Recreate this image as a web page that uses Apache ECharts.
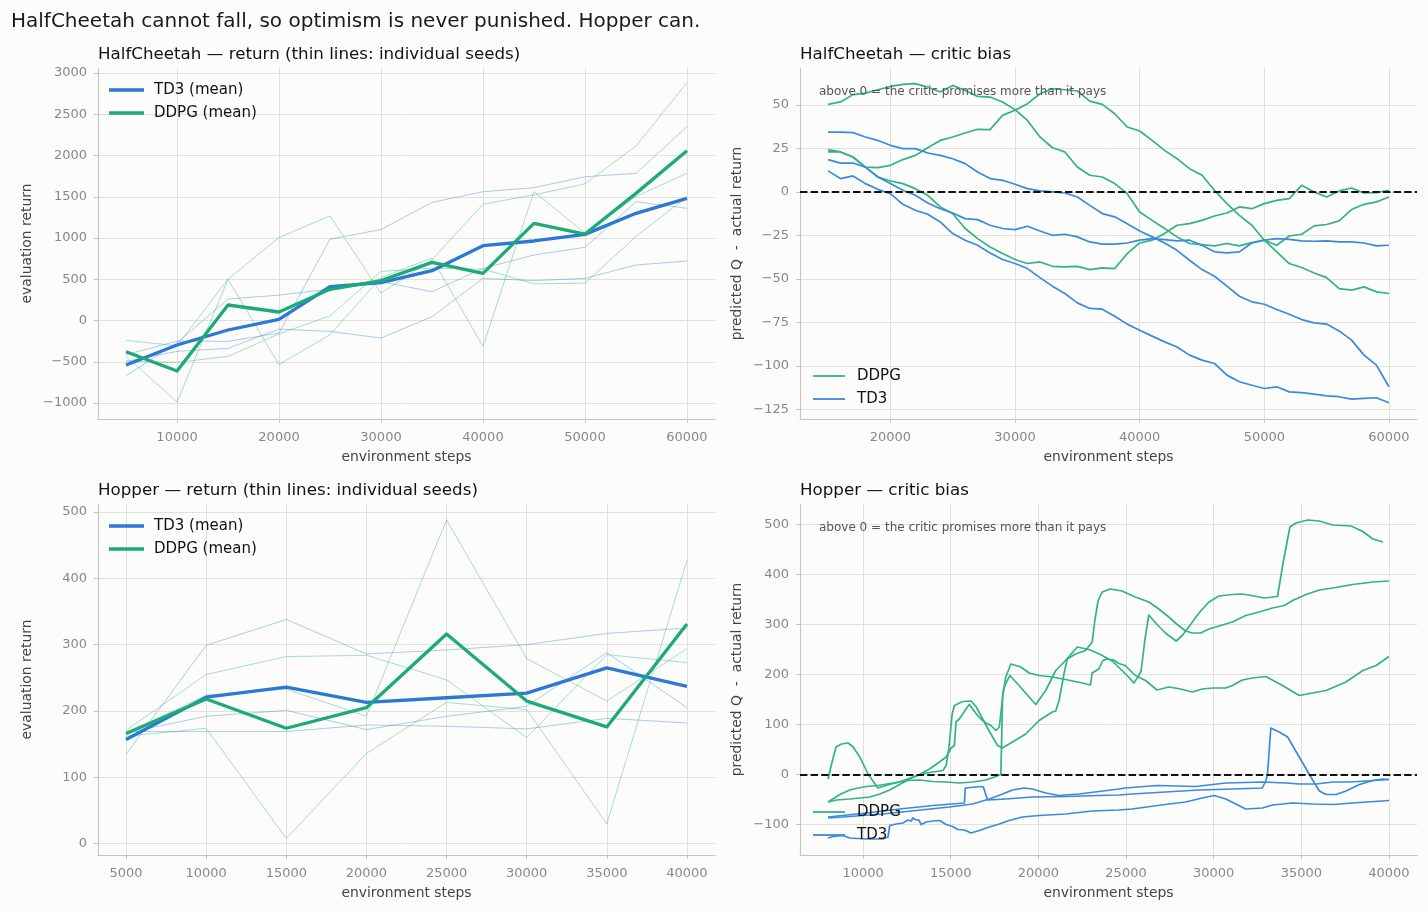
<!DOCTYPE html>
<html>
<head>
<meta charset="utf-8">
<title>TD3 vs DDPG critic bias</title>
<script src="https://cdn.jsdelivr.net/npm/echarts@6/dist/echarts.min.js"></script>
<style>
  html, body { margin: 0; padding: 0; background: #fcfcfa; }
  #chart { width: 1428px; height: 911px; }
</style>
</head>
<body>
<div id="chart"></div>
<script>
// ---- HalfCheetah return (evaluation every 5000 steps) ----
var hcSteps = [5000, 10000, 15000, 20000, 25000, 30000, 35000, 40000, 45000, 50000, 55000, 60000];
var hcTd3Mean  = [-539, -297, -115, 15, 410, 458, 604, 907, 964, 1044, 1299, 1481];
var hcDdpgMean = [-378, -612, 188, 103, 378, 483, 705, 572, 1178, 1048, 1541, 2058];
var hcTd3Seed1 = [-414, -250, -253, -152, 986, 1103, 1432, 1561, 1610, 1743, 1784, 2349];
var hcTd3Seed2 = [-669, -270, 260, 308, 380, 471, 349, 632, 794, 887, 1440, 1360];
var hcTd3Seed3 = [-495, -374, -338, -104, -132, -213, 46, 511, 483, 511, 673, 721];
var hcDdpgSeed1 = [-241, -306, 500, 1006, 1268, 332, 736, 1410, 1523, 1656, 2116, 2883];
var hcDdpgSeed2 = [-435, -988, 500, -535, -172, 522, 756, -314, 1563, 1059, 1503, 1785];
var hcDdpgSeed3 = [-495, -507, -435, -162, 58, 595, 635, 623, 445, 453, 1018, 1500];

// ---- Hopper return ----
var hpSteps = [5000, 10000, 15000, 20000, 25000, 30000, 35000, 40000];
var hpTd3Mean  = [157, 221, 236, 213, 220, 227, 265, 237];
var hpDdpgMean = [166, 218, 174, 205, 316, 215, 176, 331];
var hpTd3Seed1 = [135, 299, 338, 286, 292, 300, 317, 325];
var hpTd3Seed2 = [167, 192, 201, 172, 192, 207, 288, 205];
var hpTd3Seed3 = [169, 169, 169, 179, 177, 173, 189, 182];
var hpDdpgSeed1 = [171, 255, 282, 284, 247, 160, 285, 273];
var hpDdpgSeed2 = [166, 224, 233, 192, 488, 279, 215, 294];
var hpDdpgSeed3 = [162, 174, 8, 136, 213, 202, 30, 427];

// ---- HalfCheetah critic bias (predicted Q - actual return) ----
var hcBiasSteps = [15000, 16000, 17000, 18000, 19000, 20000, 21000, 22000, 23000, 24000,
  25000, 26000, 27000, 28000, 29000, 30000, 31000, 32000, 33000, 34000,
  35000, 36000, 37000, 38000, 39000, 40000, 41000, 42000, 43000, 44000,
  45000, 46000, 47000, 48000, 49000, 50000, 51000, 52000, 53000, 54000,
  55000, 56000, 57000, 58000, 59000, 60000];
var hcBiasDdpg1 = [50.3, 51.7, 55.9, 56.8, 58.7, 60.6, 61.8, 62.2, 60.3, 57.4, 61.2, 58.3, 54.9, 54.5, 51.7, 47.3,
  41.1, 31.6, 25.4, 23.0, 14.3, 9.6, 8.6, 4.8, -1.0, -11.5, -16.3, -21.0, -25.8, -29.6, -30.2, -31.0,
  -29.6, -31.0, -29.1, -27.7, -30.6, -25.3, -24.3, -19.5, -18.7, -16.6, -10.1, -7.1, -5.7, -2.9];
var hcBiasDdpg2 = [24.3, 23.0, 20.1, 14.3, 8.6, 6.3, 4.8, 1.9, -1.9, -8.6, -12.4, -21.0, -26.8, -31.6, -35.4, -38.8,
  -41.1, -40.2, -42.7, -43.0, -42.7, -44.6, -43.6, -44.0, -35.4, -29.3, -27.7, -23.9, -19.1, -18.2, -16.3, -13.8,
  -12.1, -8.6, -9.6, -6.7, -4.8, -3.8, 3.8, 0, -2.9, 0.6, 2.3, -0.6, -0.4, 1.0];
var hcBiasDdpg3 = [23.0, 23.0, 20.1, 14.3, 14.0, 15.3, 18.6, 21.0, 25.4, 29.6, 31.6, 33.9, 36.0, 35.8, 44.0, 46.9,
  50.7, 56.4, 59.3, 58.7, 58.0, 52.2, 50.3, 44.9, 37.3, 35.0, 29.6, 23.9, 19.1, 13.4, 9.6, 1.0,
  -6.7, -13.4, -19.1, -27.7, -34.4, -41.1, -43.4, -46.5, -49.2, -55.5, -56.4, -54.5, -57.4, -58.3];
var hcBiasTd3a = [34.4, 34.4, 34.1, 31.6, 29.6, 26.8, 24.9, 24.9, 22.4, 21.0, 19.1, 16.3, 11.5, 7.7, 6.7, 4.4,
  1.9, 0.6, 0, -0.6, -2.9, -7.7, -12.4, -14.3, -18.2, -22.4, -25.8, -29.3, -33.5, -39.2, -44.6, -48.4,
  -54.1, -59.9, -63.1, -64.5, -67.5, -70.2, -73.3, -75.2, -75.9, -79.8, -85.1, -93.7, -99.5, -111.9];
var hcBiasTd3b = [18.6, 16.6, 16.6, 14.3, 8.6, 4.8, 1.0, -1.9, -6.3, -9.6, -12.1, -15.3, -15.9, -19.1, -21.0, -21.6,
  -19.7, -22.4, -24.9, -24.3, -25.8, -28.7, -30.0, -30.0, -29.3, -27.7, -26.8, -27.4, -28.1, -27.7, -30.6, -34.4,
  -35.0, -34.4, -29.3, -27.7, -26.8, -27.2, -28.1, -28.3, -28.1, -28.7, -28.7, -29.3, -31.0, -30.6];
var hcBiasTd3c = [12.1, 7.7, 9.2, 4.8, 1.5, -1.0, -7.1, -10.5, -12.8, -17.2, -23.9, -27.7, -30.6, -35.0, -38.8, -41.1,
  -44.0, -49.2, -54.1, -58.3, -63.7, -66.9, -67.3, -71.4, -75.9, -79.4, -82.8, -86.1, -89.0, -93.7, -96.6, -98.5,
  -105.2, -109.0, -111.0, -112.9, -111.9, -114.8, -115.2, -116.1, -117.1, -117.6, -119.0, -118.6, -118.2, -121.1];

// ---- Hopper critic bias, [step, bias] ----
var hpBiasDdpgA = [[8000,-9],[8200,21],[8450,55],[8770,61],[9150,63],[9430,55],[9810,35],[10280,1],[10850,-27],
  [11500,-20],[12080,-15],[12840,-5],[13600,3],[14550,8],[14740,18],[14890,51],[15080,121],[15210,138],[15680,146],
  [16160,147],[16440,136],[16820,111],[17290,81],[17670,58],[17950,53],[18520,65],[19280,81],[20040,108],[20800,125],
  [20990,127],[21180,148],[21460,201],[21650,231],[22120,241],[22690,248],[23070,265],[23220,308],[23410,348],
  [23640,365],[24100,371],[24770,367],[25530,355],[26300,345],[26870,331],[27440,315],[27920,300],[28400,287],
  [28780,283],[29260,283],[29730,291],[30300,297],[31070,305],[31830,318],[32590,325],[33360,333],[34030,338],
  [34500,348],[35270,360],[36030,369],[36790,373],[37940,380],[39080,385],[40000,387]];
var hpBiasDdpgB = [[8000,-55],[8490,-51],[9240,-49],[10380,-45],[10950,-39],[11520,-31],[12080,-20],[12650,-9],
  [13220,0],[13790,11],[14360,25],[14740,35],[15020,53],[15210,58],[15300,105],[15490,111],[15870,131],[16060,140],
  [16250,131],[16530,118],[16720,111],[17010,103],[17290,98],[17580,88],[17770,95],[17880,98],[17990,163],[18140,195],
  [18430,221],[18520,223],[19000,215],[19470,203],[20040,198],[20800,195],[21550,190],[22500,183],[22970,179],
  [23070,203],[23450,211],[23680,228],[23920,231],[24300,229],[24580,222],[24960,218],[25530,198],[26110,188],
  [26770,169],[27440,175],[28110,171],[28780,165],[29350,171],[29920,173],[30690,173],[31070,178],[31640,189],
  [32210,193],[32980,196],[33930,178],[34880,158],[35650,163],[36410,168],[37550,185],[38510,208],[39270,218],
  [40000,236]];
var hpBiasDdpgC = [[8000,-55],[8670,-40],[9240,-31],[9720,-27],[10190,-24],[10850,-22],[11710,-17],[12460,-12],
  [13220,-11],[13980,-14],[14740,-15],[15490,-17],[16250,-15],[17010,-11],[17580,-4],[17860,0],[17960,161],
  [18050,175],[18370,198],[18900,178],[19470,155],[19850,140],[20420,168],[20990,208],[21550,228],[22220,255],
  [22880,250],[23540,240],[24210,227],[24770,208],[25150,195],[25440,183],[25690,195],[25860,207],[26070,268],
  [26300,319],[26770,300],[27250,283],[27860,267],[28210,278],[28680,300],[29160,323],[29730,345],[30300,357],
  [31070,360],[31640,361],[32310,357],[32880,353],[33640,356],[33970,425],[34350,495],[34690,503],[35360,509],
  [36030,507],[36790,499],[37840,497],[38510,486],[39080,471],[39650,465]];
var hpBiasTd3A = [[8000,-85],[10190,-77],[12080,-69],[13980,-62],[15780,-57],[15830,-27],[16720,-24],[16860,-25],
  [17100,-51],[18140,-49],[19660,-45],[21550,-44],[23450,-42],[24580,-41],[25340,-39],[27250,-35],[29160,-31],
  [31070,-29],[32780,-27],[32980,-12],[33070,1],[33260,93],[33740,85],[34220,75],[34880,35],[35460,0],[36030,-33],
  [36410,-40],[36980,-40],[37550,-33],[38320,-20],[39080,-12],[39650,-9],[40000,-10]];
var hpBiasTd3B = [[8000,-87],[9240,-84],[11140,-79],[13030,-72],[14920,-65],[16250,-59],[17200,-49],[17960,-39],
  [18520,-31],[19190,-27],[19660,-29],[20420,-37],[21180,-42],[22310,-39],[23450,-34],[24580,-29],[24960,-27],
  [26770,-22],[28970,-24],[30690,-17],[32780,-15],[34120,-17],[34880,-19],[35840,-19],[36790,-15],[37750,-15],
  [38700,-13],[40000,-10]];
var hpBiasTd3C = [[8000,-127],[8300,-124],[8860,-122],[9240,-127],[10190,-129],[11140,-129],[11420,-125],[11520,-102],
  [11890,-99],[12270,-97],[12560,-91],[12750,-93],[12840,-87],[13030,-91],[13180,-91],[13310,-100],[13600,-95],
  [13980,-93],[14360,-92],[14740,-100],[15110,-104],[15400,-110],[15780,-111],[16160,-117],[16630,-112],[17200,-105],
  [17770,-99],[18330,-92],[19090,-85],[20040,-82],[21550,-79],[23070,-73],[24580,-71],[25340,-69],[27250,-60],
  [28400,-55],[29350,-47],[30020,-42],[30690,-49],[31260,-59],[31830,-69],[32780,-67],[33360,-61],[34500,-57],
  [35650,-59],[36790,-60],[37940,-57],[40000,-52]];

// ---- tick labels ----
var hcRetXTicks = [10000, 20000, 30000, 40000, 50000, 60000];
var hcRetYTicks = [-1000, -500, 0, 500, 1000, 1500, 2000, 2500, 3000];
var hcBiasXTicks = [20000, 30000, 40000, 50000, 60000];
var hcBiasYTicks = [-125, -100, -75, -50, -25, 0, 25, 50];
var hpRetXTicks = [5000, 10000, 15000, 20000, 25000, 30000, 35000, 40000];
var hpRetYTicks = [0, 100, 200, 300, 400, 500];
var hpBiasXTicks = [10000, 15000, 20000, 25000, 30000, 35000, 40000];
var hpBiasYTicks = [-100, 0, 100, 200, 300, 400, 500];

var FONT = 'DejaVu Sans';
var BLUE = '#2b78d5', GREEN = '#1caa77';
var BLUE_C = '#3b8ade', GREEN_C = '#33b383';
var SPINE = '#c6c4bc', GRIDC = '#e2e0da';
var NOTE = 'above 0 = the critic promises more than it pays';

var myChart = echarts.init(document.getElementById('chart'));

function zip(xs, ys) {
  var out = [];
  for (var i = 0; i < xs.length; i++) out.push([xs[i], ys[i]]);
  return out;
}
function fmt(v) { return String(v).replace('-', '\u2212'); }

function makeAxis(gi, min, max, ticks, name, gap, isX) {
  return {
    type: 'value', gridIndex: gi, min: min, max: max,
    name: name, nameLocation: 'middle', nameGap: gap,
    nameTextStyle: { color: '#444', fontSize: 13.9, fontFamily: FONT },
    axisLine: { show: true, onZero: false, lineStyle: { color: SPINE, width: 1.1 } },
    axisTick: { show: true, length: 4, customValues: ticks, lineStyle: { color: SPINE, width: 1 } },
    axisLabel: { customValues: ticks, color: '#888', fontSize: 13, fontFamily: FONT,
                 margin: isX ? 12 : 11, formatter: fmt },
    splitLine: { show: true, lineStyle: { color: GRIDC, width: 1 } }
  };
}

function line(name, gi, data, color, width, opacity, z) {
  return {
    name: name, type: 'line', xAxisIndex: gi, yAxisIndex: gi,
    data: data, symbol: 'none', showSymbol: false, silent: true, z: z,
    itemStyle: { color: color },
    lineStyle: { color: color, width: width, opacity: opacity, join: 'round', cap: 'butt' }
  };
}

function zeroLine() {
  return {
    silent: true, symbol: ['none', 'none'], label: { show: false },
    lineStyle: { color: '#111', type: [7.4, 3.2], width: 2 },
    data: [{ yAxis: 0 }]
  };
}

function legendBox(names, left, top, w, h, pad) {
  return {
    data: names, orient: 'vertical', left: left, top: top, padding: 0,
    icon: 'rect', itemWidth: w, itemHeight: h, itemGap: 7,
    itemStyle: { borderWidth: 0 },
    selectedMode: false,
    textStyle: { fontSize: 15, color: '#111', fontFamily: FONT, lineHeight: 16, padding: [0, 0, 0, pad] }
  };
}

var series = [
  line('TD3 seed', 0, zip(hcSteps, hcTd3Seed1), BLUE, 1, 0.38, 2),
  line('TD3 seed', 0, zip(hcSteps, hcTd3Seed2), BLUE, 1, 0.38, 2),
  line('TD3 seed', 0, zip(hcSteps, hcTd3Seed3), BLUE, 1, 0.38, 2),
  line('DDPG seed', 0, zip(hcSteps, hcDdpgSeed1), GREEN, 1, 0.38, 2),
  line('DDPG seed', 0, zip(hcSteps, hcDdpgSeed2), GREEN, 1, 0.38, 2),
  line('DDPG seed', 0, zip(hcSteps, hcDdpgSeed3), GREEN, 1, 0.38, 2),
  line('TD3 (mean)', 0, zip(hcSteps, hcTd3Mean), BLUE, 3.3, 1, 3),
  line('DDPG (mean)', 0, zip(hcSteps, hcDdpgMean), GREEN, 3.3, 1, 3),

  line('DDPG', 1, zip(hcBiasSteps, hcBiasDdpg1), GREEN_C, 1.7, 1, 3),
  line('DDPG', 1, zip(hcBiasSteps, hcBiasDdpg2), GREEN_C, 1.7, 1, 3),
  line('DDPG', 1, zip(hcBiasSteps, hcBiasDdpg3), GREEN_C, 1.7, 1, 3),
  line('TD3', 1, zip(hcBiasSteps, hcBiasTd3a), BLUE_C, 1.7, 1, 3),
  line('TD3', 1, zip(hcBiasSteps, hcBiasTd3b), BLUE_C, 1.7, 1, 3),
  line('TD3', 1, zip(hcBiasSteps, hcBiasTd3c), BLUE_C, 1.7, 1, 3),

  line('TD3 seed', 2, zip(hpSteps, hpTd3Seed1), BLUE, 1, 0.38, 2),
  line('TD3 seed', 2, zip(hpSteps, hpTd3Seed2), BLUE, 1, 0.38, 2),
  line('TD3 seed', 2, zip(hpSteps, hpTd3Seed3), BLUE, 1, 0.38, 2),
  line('DDPG seed', 2, zip(hpSteps, hpDdpgSeed1), GREEN, 1, 0.38, 2),
  line('DDPG seed', 2, zip(hpSteps, hpDdpgSeed2), GREEN, 1, 0.38, 2),
  line('DDPG seed', 2, zip(hpSteps, hpDdpgSeed3), GREEN, 1, 0.38, 2),
  line('TD3 (mean)', 2, zip(hpSteps, hpTd3Mean), BLUE, 3.3, 1, 3),
  line('DDPG (mean)', 2, zip(hpSteps, hpDdpgMean), GREEN, 3.3, 1, 3),

  line('DDPG', 3, hpBiasDdpgA, GREEN_C, 1.7, 1, 3),
  line('DDPG', 3, hpBiasDdpgB, GREEN_C, 1.7, 1, 3),
  line('DDPG', 3, hpBiasDdpgC, GREEN_C, 1.7, 1, 3),
  line('TD3', 3, hpBiasTd3A, BLUE_C, 1.7, 1, 3),
  line('TD3', 3, hpBiasTd3B, BLUE_C, 1.7, 1, 3),
  line('TD3', 3, hpBiasTd3C, BLUE_C, 1.7, 1, 3)
];
series[13].markLine = zeroLine();
series[27].markLine = zeroLine();

var option = {
  animation: false,
  backgroundColor: '#fcfcfa',
  textStyle: { fontFamily: FONT },
  title: [
    { text: 'HalfCheetah cannot fall, so optimism is never punished. Hopper can.', left: 11, top: 12, padding: 0,
      textStyle: { fontSize: 20, fontWeight: 'normal', color: '#1a1a1a', fontFamily: FONT } },
    { text: 'HalfCheetah \u2014 return (thin lines: individual seeds)', left: 98, top: 46, padding: 0,
      textStyle: { fontSize: 16.7, fontWeight: 'normal', color: '#111', fontFamily: FONT } },
    { text: 'HalfCheetah \u2014 critic bias', left: 800, top: 46, padding: 0,
      textStyle: { fontSize: 16.7, fontWeight: 'normal', color: '#111', fontFamily: FONT } },
    { text: 'Hopper \u2014 return (thin lines: individual seeds)', left: 98, top: 482, padding: 0,
      textStyle: { fontSize: 16.7, fontWeight: 'normal', color: '#111', fontFamily: FONT } },
    { text: 'Hopper \u2014 critic bias', left: 800, top: 482, padding: 0,
      textStyle: { fontSize: 16.7, fontWeight: 'normal', color: '#111', fontFamily: FONT } }
  ],
  legend: [
    legendBox(['TD3 (mean)', 'DDPG (mean)'], 109, 82, 35, 3.3, 5),
    legendBox(['DDPG', 'TD3'], 813, 368, 32, 1.8, 7),
    legendBox(['TD3 (mean)', 'DDPG (mean)'], 109, 518, 35, 3.3, 5),
    legendBox(['DDPG', 'TD3'], 813, 804, 32, 1.8, 7)
  ],
  grid: [
    { left: 98, top: 68, width: 617, height: 351 },
    { left: 800, top: 68, width: 617, height: 351 },
    { left: 98, top: 504, width: 617, height: 351 },
    { left: 800, top: 504, width: 617, height: 351 }
  ],
  xAxis: [
    makeAxis(0, 2250, 62750, hcRetXTicks, 'environment steps', 31, true),
    makeAxis(1, 12750, 62250, hcBiasXTicks, 'environment steps', 31, true),
    makeAxis(2, 3250, 41750, hpRetXTicks, 'environment steps', 31, true),
    makeAxis(3, 6400, 41600, hpBiasXTicks, 'environment steps', 31, true)
  ],
  yAxis: [
    makeAxis(0, -1194, 3061, hcRetYTicks, 'evaluation return', 64, false),
    makeAxis(1, -130.4, 71.2, hcBiasYTicks, 'predicted Q  -  actual return', 56, false),
    makeAxis(2, -17, 512, hpRetYTicks, 'evaluation return', 64, false),
    makeAxis(3, -161, 541, hpBiasYTicks, 'predicted Q  -  actual return', 56, false)
  ],
  graphic: [
    { type: 'text', x: 819, y: 92, z: 10, silent: true,
      style: { text: NOTE, fill: '#555', fontSize: 12, fontFamily: FONT, verticalAlign: 'middle' } },
    { type: 'text', x: 819, y: 528, z: 10, silent: true,
      style: { text: NOTE, fill: '#555', fontSize: 12, fontFamily: FONT, verticalAlign: 'middle' } }
  ],
  series: series
};

if (option && typeof option === "object") {
  myChart.setOption(option, true);
}
window.onresize = function () {
  myChart.resize();
};
</script>
</body>
</html>
